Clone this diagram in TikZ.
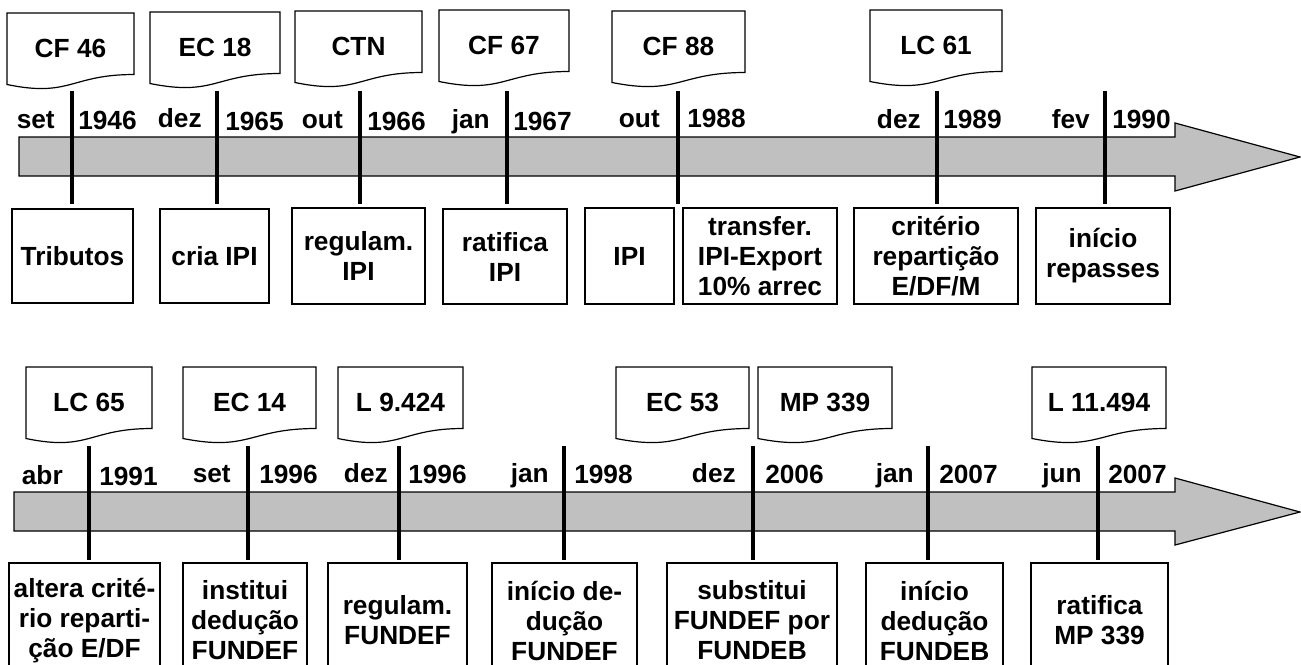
\documentclass[tikz,border=0pt]{standalone}
\usepackage{fontspec}
\setmainfont{Liberation Sans}
\definecolor{bandgray}{HTML}{C0C0C0}
\tikzset{
  txt/.style={font=\bfseries\fontsize{19.7}{22.5}\selectfont, inner sep=0pt, align=center},
  docline/.style={draw=black, line width=0.9pt, fill=white},
  evbox/.style={txt, draw=black, line width=0.9pt, fill=white},
  band/.style={draw=black, line width=0.9pt, fill=bandgray},
  tick/.style={draw=black, line width=2.4pt},
  monthlbl/.style={txt, anchor=base east},
  yearlbl/.style={txt, anchor=base west},
}
% name, x1, x2, top, text
\newcommand\docshape[5]{%
  \draw[docline] (#2,#4) -- (#3,#4) -- (#3,#4+61.5)
    .. controls ({(#2+#3)/2},#4+61.5) and ({(#2+#3)/2},#4+84.7) .. (#2,#4+71.5) -- cycle;
  \node[txt] (#1) at ({(#2+#3)/2},#4+35.5) {#5};
}
% name, x1, x2, y1, y2, text
\newcommand\evboxnode[6]{%
  \node[evbox, minimum width={(#3-#2)*0.75pt}, minimum height={(#5-#4)*0.75pt}]
    (#1) at ({(#2+#3)/2},{(#4+#5)/2}) {#6};
}
% name, x, y1, y2
\newcommand\tickline[4]{%
  \coordinate (#1a) at (#2,#3);
  \coordinate (#1b) at (#2,#4);
  \draw[tick] (#1a) -- (#1b);
}
\begin{document}
\begin{tikzpicture}[x=0.75pt,y=-0.75pt]
\useasboundingbox (0,0) rectangle (1301,664);
\clip (0,0) rectangle (1301,664);

% ---------- top timeline ----------
\draw[band] (19,137) -- (1175,137) -- (1175,123) -- (1300,157) -- (1175,191) -- (1175,176) -- (19,176) -- cycle;

\docshape{cf46}{7}{134}{13}{CF 46}
\docshape{ec18}{150}{280}{12}{EC 18}
\docshape{ctn}{295}{422}{11}{CTN}
\docshape{cf67}{439}{569}{10}{CF 67}
\docshape{cf88}{612}{745}{11}{CF 88}
\docshape{lc61}{870}{1002}{10}{LC 61}

\tickline{t1}{72}{91}{204}
\tickline{t2}{217}{91}{204}
\tickline{t3}{360}{91}{204}
\tickline{t4}{507}{91}{204}
\tickline{t5}{678}{91}{204}
\tickline{t6}{937}{91}{204}
\tickline{t7}{1105}{91}{204}

\node[monthlbl] (m1) at (55,128) {set};   \node[yearlbl] (y1) at (78,129) {1946};
\node[monthlbl] (m2) at (202,127) {dez};  \node[yearlbl] (y2) at (225,130) {1965};
\node[monthlbl] (m3) at (343,128) {out};  \node[yearlbl] (y3) at (367,130) {1966};
\node[monthlbl] (m4) at (490,128) {jan};  \node[yearlbl] (y4) at (513,130) {1967};
\node[monthlbl] (m5) at (660,127) {out};  \node[yearlbl] (y5) at (687,127) {1988};
\node[monthlbl] (m6) at (921,128) {dez};  \node[yearlbl] (y6) at (943,128) {1989};
\node[monthlbl] (m7) at (1090,128) {fev}; \node[yearlbl] (y7) at (1112,128) {1990};

\evboxnode{b1}{12}{133}{209}{303}{Tributos}
\evboxnode{b2}{160}{269}{209}{303}{cria IPI}
\evboxnode{b3}{292}{425}{208}{304}{regulam.\\IPI}
\evboxnode{b4}{443}{567}{209}{304}{ratifica\\IPI}
\evboxnode{b5}{585}{674}{208}{304}{IPI}
\evboxnode{b6}{683}{837}{208}{304}{transfer.\\IPI-Export\\10\% arrec}
\evboxnode{b7}{854}{1018}{208}{304}{critério\\repartição\\E/DF/M}
\evboxnode{b8}{1036}{1170}{208}{304}{início\\repasses}

% ---------- bottom timeline ----------
\draw[band] (14,492) -- (1175,492) -- (1175,478) -- (1300,512) -- (1175,545) -- (1175,531) -- (14,531) -- cycle;

\docshape{lc65}{26}{152}{367}{LC 65}
\docshape{ec14}{183}{316}{367}{EC 14}
\docshape{l9424}{338}{463}{367}{L 9.424}
\docshape{ec53}{616}{749}{367}{EC 53}
\docshape{mp339}{758}{892}{367}{MP 339}
\docshape{l11494}{1032}{1166}{367}{L 11.494}

\tickline{s1}{89}{446}{560}
\tickline{s2}{248}{446}{560}
\tickline{s3}{399}{446}{560}
\tickline{s4}{564}{446}{560}
\tickline{s5}{753}{446}{560}
\tickline{s6}{928}{446}{560}
\tickline{s7}{1098}{446}{560}

\node[monthlbl] (n1) at (63,484) {abr};   \node[yearlbl] (z1) at (99,485) {1991};
\node[monthlbl] (n2) at (231,482) {set};  \node[yearlbl] (z2) at (259,483) {1996};
\node[monthlbl] (n3) at (388,482) {dez};  \node[yearlbl] (z3) at (408,483) {1996};
\node[monthlbl] (n4) at (549,482) {jan};  \node[yearlbl] (z4) at (574,483) {1998};
\node[monthlbl] (n5) at (736,482) {dez};  \node[yearlbl] (z5) at (765,483) {2006};
\node[monthlbl] (n6) at (914,482) {jan};  \node[yearlbl] (z6) at (939,483) {2007};
\node[monthlbl] (n7) at (1082,482) {jun}; \node[yearlbl] (z7) at (1108,483) {2007};

\evboxnode{c1}{9}{160}{563}{678}{altera crité-\\rio reparti-\\ção E/DF}
\evboxnode{c2}{183}{307}{563}{678}{institui\\dedução\\FUNDEF}
\evboxnode{c3}{328}{467}{563}{678}{regulam.\\FUNDEF}
\evboxnode{c4}{492}{637}{563}{678}{início de-\\dução\\FUNDEF}
\evboxnode{c5}{667}{837}{563}{678}{substitui\\FUNDEF por\\FUNDEB}
\evboxnode{c6}{866}{1003}{563}{678}{início\\dedução\\FUNDEB}
\evboxnode{c7}{1031}{1168}{563}{678}{ratifica\\MP 339}
\end{tikzpicture}
\end{document}
